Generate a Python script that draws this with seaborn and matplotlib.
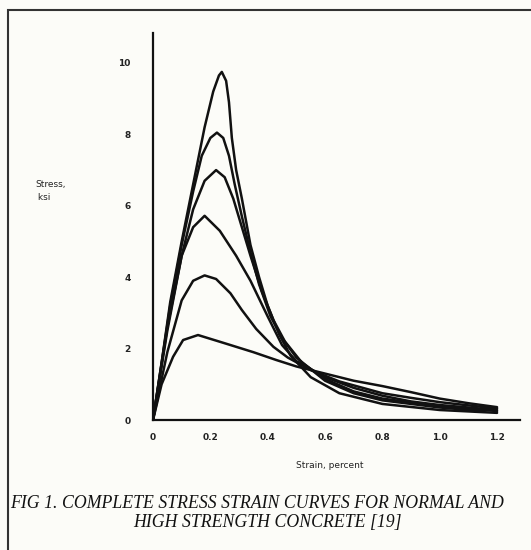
import pandas as pd
import matplotlib.pyplot as plt
import seaborn as sns
from matplotlib.patches import Rectangle

# curvas leidas a ojo del grafico escaneado (deformacion %, tension ksi)
strain_a = [0, 0.03, 0.06, 0.10, 0.14, 0.18, 0.21, 0.23, 0.24, 0.255, 0.265, 0.275, 0.29, 0.31,
            0.34, 0.37, 0.40, 0.44, 0.48, 0.55, 0.65, 0.80, 1.00, 1.20]
stress_a = [0, 1.6, 3.3, 5.0, 6.6, 8.2, 9.2, 9.65, 9.75, 9.5, 8.9, 7.9, 7.0, 6.2,
            4.9, 4.0, 3.2, 2.4, 1.8, 1.2, 0.75, 0.45, 0.28, 0.2]

strain_b = [0, 0.03, 0.06, 0.10, 0.14, 0.17, 0.20, 0.223, 0.245, 0.265, 0.285, 0.31, 0.34, 0.37,
            0.41, 0.45, 0.50, 0.60, 0.70, 0.80, 1.00, 1.15]
stress_b = [0, 1.6, 3.2, 4.9, 6.4, 7.4, 7.9, 8.05, 7.9, 7.4, 6.6, 5.7, 4.7, 3.8,
            2.9, 2.3, 1.75, 1.1, 0.75, 0.55, 0.35, 0.25]

strain_c = [0, 0.05, 0.10, 0.14, 0.18, 0.22, 0.25, 0.28, 0.31, 0.34, 0.38, 0.42, 0.46, 0.52,
            0.60, 0.70, 0.80, 1.00, 1.20]
stress_c = [0, 2.5, 4.6, 5.9, 6.7, 7.0, 6.8, 6.2, 5.4, 4.6, 3.6, 2.8, 2.2, 1.6,
            1.15, 0.8, 0.6, 0.38, 0.25]

strain_d = [0, 0.05, 0.10, 0.14, 0.18, 0.233, 0.29, 0.34, 0.40, 0.45, 0.50, 0.60, 0.70, 0.80,
            0.90, 1.00, 1.20]
stress_d = [0, 2.6, 4.6, 5.4, 5.72, 5.3, 4.6, 3.9, 2.9, 2.1, 1.65, 1.2, 0.9, 0.68,
            0.52, 0.42, 0.28]

strain_e = [0, 0.05, 0.10, 0.14, 0.18, 0.22, 0.27, 0.31, 0.36, 0.42, 0.47, 0.55, 0.65, 0.80,
            0.90, 1.00, 1.20]
stress_e = [0, 1.9, 3.35, 3.9, 4.05, 3.95, 3.55, 3.08, 2.55, 2.05, 1.75, 1.4, 1.08, 0.75,
            0.62, 0.5, 0.32]

strain_f = [0, 0.03, 0.07, 0.105, 0.157, 0.25, 0.35, 0.43, 0.50, 0.60, 0.70, 0.80, 0.90, 1.00,
            1.10, 1.20]
stress_f = [0, 1.0, 1.77, 2.24, 2.38, 2.15, 1.9, 1.68, 1.5, 1.3, 1.1, 0.95, 0.78, 0.6,
            0.47, 0.36]

x_ticks = [0, 0.2, 0.4, 0.6, 0.8, 1.0, 1.2]
x_labels = ["0", "0.2", "0.4", "0.6", "0.8", "1.0", "1.2"]
y_ticks = [0, 2, 4, 6, 8, 10]
y_labels = ["0", "2", "4", "6", "8", "10"]

curves = {"A": (strain_a, stress_a), "B": (strain_b, stress_b), "C": (strain_c, stress_c),
          "D": (strain_d, stress_d), "E": (strain_e, stress_e), "F": (strain_f, stress_f)}
rows = []
for name, (xs, ys) in curves.items():
    for i, (x, y) in enumerate(zip(xs, ys)):
        rows.append({"curve": name, "order": i, "strain": x, "stress": y})
df = pd.DataFrame(rows)

sns.set_style("white")
plt.rcParams['font.family'] = ['DejaVu Sans']

bg = "#fcfcf8"
fig = plt.figure(figsize=(5.31, 5.50), dpi=100, facecolor=bg)
ax = fig.add_axes([153 / 531, 1 - 420 / 550, (520 - 153) / 531, (420 - 33) / 550])
ax.set_facecolor(bg)

sns.lineplot(data=df, x="strain", y="stress", hue="curve", units="curve", estimator=None,
             sort=False, palette=["#111111"] * 6, linewidth=1.8, legend=False, ax=ax)

ax.set_xlim(0, 1.28)
ax.set_ylim(0, 10.84)
for side in ["top", "right"]:
    ax.spines[side].set_visible(False)
for side in ["left", "bottom"]:
    ax.spines[side].set_linewidth(1.6)
    ax.spines[side].set_color("#111111")

ax.set_xticks(x_ticks)
ax.set_xticklabels(x_labels, fontsize=6.5, fontweight="bold", color="#222222")
ax.set_yticks(y_ticks)
ax.set_yticklabels(y_labels, fontsize=6.5, fontweight="bold", color="#222222")
ax.tick_params(axis="x", direction="in", length=4, width=1, pad=9)
ax.tick_params(axis="y", direction="in", length=5, width=1.2, pad=16)
ax.set_xlabel("")
ax.set_ylabel("")

fig.text(330 / 531, 1 - 466 / 550, "Strain, percent", fontsize=6.5, ha="center", va="center",
         color="#222222")
fig.text(35 / 531, 1 - 191 / 550, "Stress,\n ksi", fontsize=6.5, ha="left", va="center",
         color="#222222", linespacing=1.6)

cap = dict(style="italic", family="Liberation Serif", va="center", color="#111111", fontsize=12.8)
fig.text(10 / 531, 1 - 504 / 550, "FIG 1. COMPLETE STRESS STRAIN CURVES FOR NORMAL AND",
         ha="left", **cap)
fig.text(267 / 531, 1 - 522 / 550, "HIGH STRENGTH CONCRETE [19]", ha="center", **cap)

# marco del escaneo
fig.patches.append(Rectangle((8 / 531, -0.1), 1.2, 1 - 10 / 550 + 0.1, transform=fig.transFigure,
                             fill=False, edgecolor="#333333", linewidth=1.5))

fig.savefig("out.png", dpi=100, facecolor=bg)
